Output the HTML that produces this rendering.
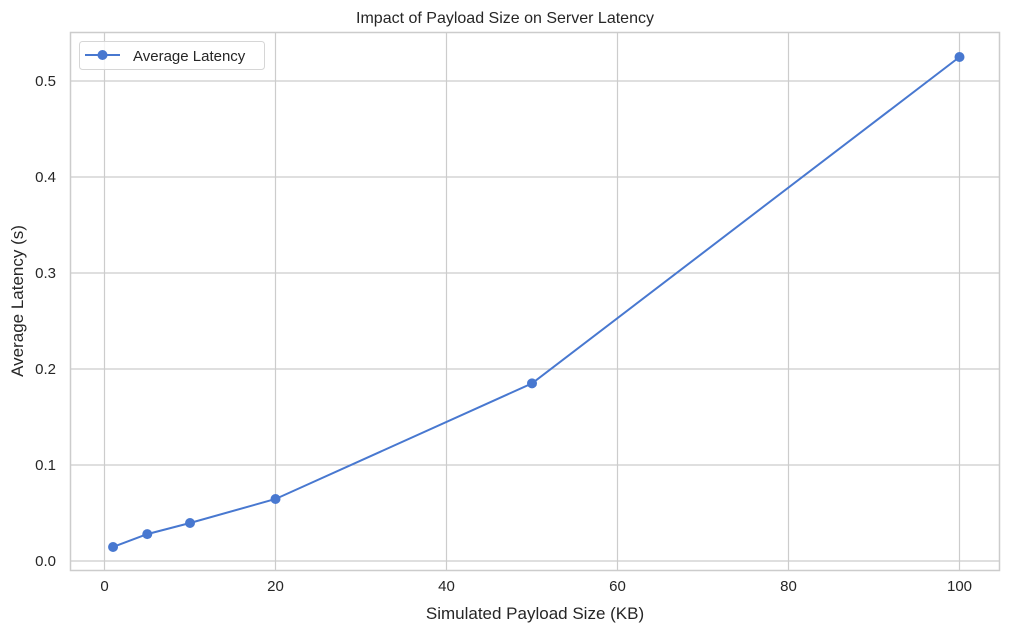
<!DOCTYPE html>
<html><head><meta charset="utf-8"><style>
body{margin:0;background:#fff;font-family:"Liberation Sans",sans-serif;}
svg text{font-family:"Liberation Sans",sans-serif;fill:#262626;}
</style></head><body>
<svg width="1010" height="633">
<rect width="1010" height="633" fill="#fff"/>
<g id="grid"></g>
<rect x="70.5" y="32.5" width="929" height="538" fill="none" stroke="#cccccc" stroke-width="1.5"/>
<g id="ticks"></g>
<g id="series"></g>
<text x="505" y="23" text-anchor="middle" font-size="16">Impact of Payload Size on Server Latency</text>
<text x="535" y="619" text-anchor="middle" font-size="17">Simulated Payload Size (KB)</text>
<text transform="translate(23,301) rotate(-90)" text-anchor="middle" font-size="17">Average Latency (s)</text>
<g>
<rect x="79.5" y="41.5" width="185" height="28" rx="3" fill="#fff" fill-opacity="0.8" stroke="#d6d6d6"/>
<line x1="85" y1="55" x2="120" y2="55" stroke="#4878d0" stroke-width="2"/>
<circle cx="102.5" cy="55" r="5" fill="#4878d0"/>
<text x="133" y="61" font-size="15">Average Latency</text>
</g>
</svg>
<script>
const xs=[1,5,10,20,50,100];
const latency=[0.0146,0.028,0.0396,0.0646,0.185,0.525];
const xTicks=[0,20,40,60,80,100];
const yTicks=[0.0,0.1,0.2,0.3,0.4,0.5];
const X=v=>104.5+v*8.55, Y=v=>561-v*960;
const NS="http://www.w3.org/2000/svg";
function mk(t,a,p){const e=document.createElementNS(NS,t);for(const k in a)e.setAttribute(k,a[k]);p.appendChild(e);return e;}
const g=document.getElementById('grid'),tk=document.getElementById('ticks'),s=document.getElementById('series');
xTicks.forEach(v=>{
 const l=mk('line',{x1:X(v),x2:X(v),y1:32,y2:570,stroke:'#cccccc','stroke-width':1.2},g);
 
 
 const t=mk('text',{x:X(v),y:591,'text-anchor':'middle','font-size':15},tk);t.textContent=v;
 
 
});
yTicks.forEach(v=>{
 const l=mk('line',{x1:70,x2:999,y1:Y(v),y2:Y(v),stroke:'#cccccc','stroke-width':1.2},g);
 
 
 const t=mk('text',{x:56,y:Y(v)+5,'text-anchor':'end','font-size':15},tk);t.textContent=v.toFixed(1);
 
 
});
const pl=mk('polyline',{points:xs.map((x,i)=>X(x)+','+Y(latency[i])).join(' '),fill:'none',stroke:'#4878d0','stroke-width':2},s);


xs.forEach((x,i)=>{
 const c=mk('circle',{cx:X(x),cy:Y(latency[i]),r:5,fill:'#4878d0'},s);
 
 
});
</script>
</body></html>
